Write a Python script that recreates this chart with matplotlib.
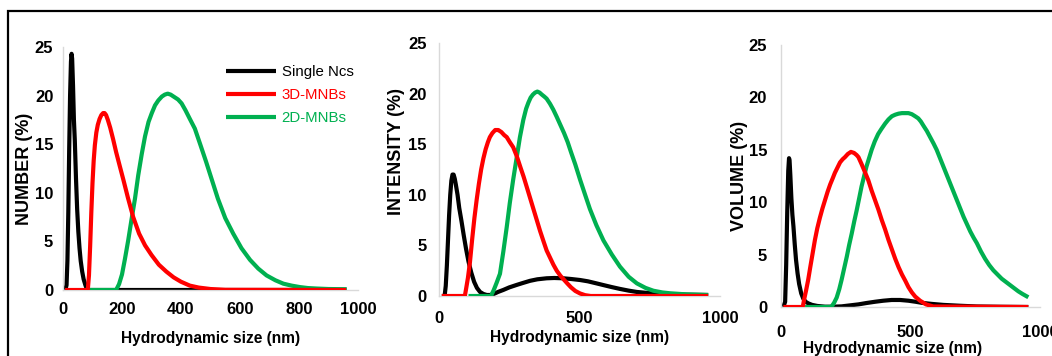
import matplotlib
matplotlib.use('Agg')
import matplotlib.pyplot as plt
from matplotlib.patches import Rectangle

# ---- data (hydrodynamic size in nm, % values) ----
series_names = ['Single Ncs', '3D-MNBs', '2D-MNBs']
series_colors = ['#000000', '#FF0000', '#00B050']

# NUMBER (%)
num_black_x = [8, 12, 15, 18, 21, 24, 27, 29, 31, 34, 37, 40, 44, 48, 52, 56, 60, 65, 70, 76, 82, 960]
num_black_y = [0, 0.5, 3, 8, 14.5, 20, 23.5, 24.3, 23.8, 21, 17.5, 15.4, 11.5, 8.3, 6.0, 4.3, 3.0, 1.9, 1.1, 0.5, 0, 0]
num_red_x = [7, 84, 88, 92, 96, 100, 104, 108, 113, 118, 124, 130, 136, 141, 146, 152, 160, 170, 180, 192,
             205, 220, 238, 258, 278, 300, 325, 350, 375, 400, 430, 460, 500, 550, 960]
num_red_y = [0, 0, 1.5, 4.5, 8, 11, 13.3, 14.9, 16.2, 17.0, 17.6, 18.0, 18.2, 18.2, 18.0, 17.5, 16.7, 15.5, 14.2, 12.8,
             11.3, 9.5, 7.5, 5.8, 4.6, 3.6, 2.6, 1.9, 1.3, 0.85, 0.45, 0.25, 0.1, 0.02, 0]
num_green_x = [86, 180, 190, 200, 210, 221, 232, 244, 255, 267, 278, 290, 301, 312, 323, 335, 345, 355, 365, 375,
               390, 402, 415, 430, 447, 465, 485, 505, 525, 550, 577, 605, 634, 662, 690, 720, 747, 775, 803, 830,
               860, 900, 962]
num_green_y = [0, 0, 0.6, 1.6, 3.2, 5.1, 7.2, 9.4, 11.8, 14.0, 15.8, 17.3, 18.2, 19.0, 19.5, 19.9, 20.1, 20.2, 20.1, 19.9,
               19.6, 19.2, 18.5, 17.6, 16.6, 15.0, 13.2, 11.3, 9.4, 7.4, 5.8, 4.3, 3.1, 2.2, 1.5, 1.0, 0.65, 0.45, 0.3, 0.2,
               0.15, 0.1, 0.08]

# INTENSITY (%)
int_black_x = [10, 20, 24, 28, 32, 36, 40, 44, 48, 52, 56, 60, 66, 72, 80, 88, 96, 105, 115, 125,
               135, 146, 158, 170, 182, 195, 210, 229, 250, 277, 300, 324, 350, 383, 410, 442, 470, 502, 530, 560,
               585, 615, 644, 675, 704, 735, 763, 795, 822, 880, 958]
int_black_y = [0, 0, 1, 3, 5.5, 8, 10, 11.4, 12.0, 12.0, 11.6, 11.0, 10.0, 8.7, 7.4, 6.0, 4.7, 3.4, 2.3, 1.4,
               0.8, 0.4, 0.2, 0.1, 0.1, 0.2, 0.4, 0.6, 0.85, 1.1, 1.3, 1.5, 1.65, 1.75, 1.78, 1.75, 1.68, 1.58, 1.45, 1.25,
               1.08, 0.88, 0.7, 0.53, 0.4, 0.32, 0.26, 0.22, 0.18, 0.13, 0.1]
int_red_x = [10, 92, 97, 103, 110, 118, 126, 134, 142, 150, 158, 166, 174, 181, 190, 200, 211, 222, 232, 241,
             252, 264, 277, 290, 301, 312, 324, 336, 348, 360, 372, 383, 395, 407, 419, 432, 445, 458, 470, 485,
             502, 520, 540, 958]
int_red_y = [0, 0, 0.8, 1.8, 3.3, 5.6, 7.7, 9.5, 11.1, 12.5, 13.6, 14.5, 15.2, 15.7, 16.1, 16.4, 16.4, 16.2, 15.9, 15.7,
             15.2, 14.7, 13.8, 12.7, 11.8, 10.8, 9.7, 8.6, 7.5, 6.4, 5.4, 4.5, 3.8, 3.1, 2.5, 2.0, 1.6, 1.2, 0.85, 0.5,
             0.25, 0.08, 0, 0]
int_green_x = [105, 185, 195, 205, 217, 229, 241, 252, 264, 276, 288, 300, 310, 318, 326, 334, 342, 350, 358, 366,
               375, 383, 395, 407, 419, 432, 445, 458, 470, 485, 502, 520, 537, 560, 585, 615, 644, 675, 704, 735,
               763, 795, 822, 880, 958]
int_green_y = [0, 0, 0.6, 1.3, 2.2, 4.4, 6.8, 9.2, 11.5, 13.6, 15.7, 17.4, 18.5, 19.1, 19.6, 19.9, 20.1, 20.2, 20.1, 19.9,
               19.7, 19.5, 19.0, 18.4, 17.7, 16.9, 16.1, 15.2, 14.2, 13.0, 11.5, 10.0, 8.6, 7.0, 5.5, 4.1, 2.9, 1.9, 1.25, 0.8,
               0.52, 0.35, 0.27, 0.16, 0.1]

# VOLUME (%)
vol_black_x = [9, 16, 20, 24, 28, 31, 33, 36, 40, 44, 48, 53, 58, 64, 70, 78, 86, 95, 105, 120,
               140, 170, 200, 234, 265, 299, 330, 363, 395, 427, 460, 492, 520, 543, 580, 627, 690, 756, 850, 955]
vol_black_y = [0, 0.5, 4, 9, 13, 14.2, 14.0, 12.6, 10.4, 8.8, 7.7, 6.0, 4.5, 3.2, 2.2, 1.3, 0.8, 0.5, 0.35, 0.2,
               0.1, 0.03, 0.03, 0.06, 0.15, 0.25, 0.38, 0.5, 0.6, 0.67, 0.67, 0.6, 0.5, 0.4, 0.3, 0.2, 0.12, 0.05, 0.02, 0]
vol_red_x = [9, 84, 90, 97, 105, 113, 122, 131, 140, 150, 160, 170, 180, 190, 200, 208, 218, 228, 238, 247,
             258, 270, 282, 292, 299, 310, 322, 337, 350, 363, 376, 389, 402, 415, 428, 441, 454, 467, 480, 492,
             505, 518, 537, 560, 588, 955]
vol_red_y = [0, 0, 0.8, 1.6, 2.6, 3.8, 5.1, 6.4, 7.5, 8.5, 9.4, 10.2, 11.0, 11.7, 12.3, 12.8, 13.3, 13.8, 14.1, 14.3,
             14.6, 14.8, 14.7, 14.5, 14.3, 13.7, 13.0, 12.1, 11.1, 10.2, 9.3, 8.3, 7.4, 6.4, 5.5, 4.6, 3.8, 3.1, 2.5, 1.9,
             1.4, 1.0, 0.6, 0.25, 0.05, 0]
vol_green_x = [93, 194, 205, 215, 225, 234, 244, 254, 263, 273, 283, 292, 302, 311, 320, 330, 340, 350, 362, 375,
               388, 402, 415, 428, 441, 454, 467, 480, 492, 505, 518, 530, 540, 550, 563, 576, 589, 601, 614, 627,
               640, 653, 666, 679, 692, 705, 718, 731, 744, 756, 772, 788, 804, 820, 836, 852, 868, 884, 900, 916,
               932, 955]
vol_green_y = [0, 0, 0.4, 0.9, 1.7, 2.6, 3.7, 4.8, 5.9, 7.0, 8.2, 9.2, 10.4, 11.5, 12.4, 13.4, 14.2, 15.0, 15.8, 16.5,
               17.0, 17.5, 17.9, 18.2, 18.35, 18.45, 18.5, 18.5, 18.5, 18.4, 18.2, 18.0, 17.7, 17.3, 16.8, 16.2, 15.6, 15.0, 14.2, 13.4,
               12.6, 11.8, 11.0, 10.2, 9.4, 8.6, 7.9, 7.2, 6.6, 6.1, 5.3, 4.6, 4.0, 3.5, 3.1, 2.7, 2.4, 2.1, 1.8, 1.5,
               1.25, 0.93]

y_ticks = [0, 5, 10, 15, 20, 25]

font = ['Liberation Sans', 'DejaVu Sans']

fig = plt.figure(figsize=(10.52, 3.56), dpi=100)

# outer frame of the original figure
fig.patches.append(Rectangle((8 / 1052, -0.05), 1.05, 0.05 + (356 - 11) / 356,
                             transform=fig.transFigure, fill=False,
                             edgecolor='black', linewidth=1.6))

panels = [
    dict(rect=[63 / 1052, 66 / 356, 295 / 1052, 243 / 356], ylabel='NUMBER (%)',
         xticks=[0, 200, 400, 600, 800, 1000], xpad=9, ypad=7,
         xlab=(0.50, -0.2), ylab=(-0.13, 0.50),
         data=[(num_black_x, num_black_y), (num_red_x, num_red_y), (num_green_x, num_green_y)]),
    dict(rect=[439 / 1052, 60 / 356, 281 / 1052, 253 / 356], ylabel='INTENSITY (%)',
         xticks=[0, 500, 1000], xpad=11, ypad=9,
         xlab=(0.50, -0.165), ylab=(-0.152, 0.57),
         data=[(int_black_x, int_black_y), (int_red_x, int_red_y), (int_green_x, int_green_y)]),
    dict(rect=[781 / 1052, 49 / 356, 259 / 1052, 262 / 356], ylabel='VOLUME (%)',
         xticks=[0, 500, 1000], xpad=13, ypad=10,
         xlab=(0.43, -0.158), ylab=(-0.16, 0.50),
         data=[(vol_black_x, vol_black_y), (vol_red_x, vol_red_y), (vol_green_x, vol_green_y)]),
]

axes = []
for p in panels:
    ax = fig.add_axes(p['rect'])
    lines = []
    for (xs, ys), name, col, z in zip(p['data'], series_names, series_colors, [2, 4, 3]):
        ln, = ax.plot(xs, ys, color=col, linewidth=3, label=name, zorder=z,
                      solid_joinstyle='round', solid_capstyle='butt')
        lines.append(ln)
    ax.set_xlim(0, 1000)
    ax.set_ylim(0, 25)
    ax.set_xticks(p['xticks'])
    ax.set_yticks(y_ticks)
    for s in ['top', 'right']:
        ax.spines[s].set_visible(False)
    for s in ['left', 'bottom']:
        ax.spines[s].set_color('#D9D9D9')
        ax.spines[s].set_linewidth(1)
    ax.tick_params(length=0)
    ax.tick_params(axis='x', pad=p['xpad'])
    ax.tick_params(axis='y', pad=p['ypad'])
    for t in ax.get_xticklabels() + ax.get_yticklabels():
        t.set_family(font)
        t.set_fontweight('bold')
        t.set_fontsize(12)
    ax.set_xlabel('Hydrodynamic size (nm)', family=font, fontweight='bold', fontsize=11.2)
    ax.xaxis.set_label_coords(*p['xlab'])
    ax.xaxis.label.set_va('center')
    ax.set_ylabel(p['ylabel'], family=font, fontweight='bold', fontsize=13)
    ax.yaxis.set_label_coords(*p['ylab'])
    ax.yaxis.label.set_va('center')
    axes.append((ax, lines))

ax0, lines0 = axes[0]
ax0.legend(handles=lines0, loc='upper left', bbox_to_anchor=(0.553, 0.925),
           frameon=False, prop={'family': font, 'size': 10.8},
           labelcolor='linecolor', handlelength=3.3, handletextpad=0.4,
           labelspacing=0.6, borderpad=0, borderaxespad=0)

fig.savefig('out.png', dpi=100)
